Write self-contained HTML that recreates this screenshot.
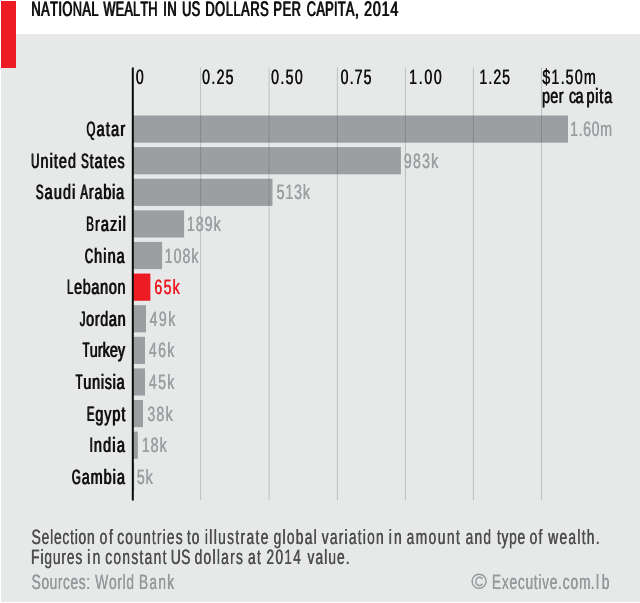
<!DOCTYPE html>
<html><head><meta charset="utf-8"><title>National wealth in US dollars per capita, 2014</title>
<style>
html,body{margin:0;padding:0;background:#fff;}
body{width:640px;height:603px;overflow:hidden;font-family:"Liberation Sans",sans-serif;}
svg{display:block;will-change:transform;}
svg text{font-family:"Liberation Sans",sans-serif;text-rendering:geometricPrecision;font-kerning:none;vector-effect:non-scaling-stroke;white-space:pre;}
</style></head><body>
<svg width="640" height="603" viewBox="0 0 640 603">
<rect x="0" y="0" width="640" height="603" fill="#ffffff"/>
<rect x="1" y="34" width="639" height="568" fill="#e6e9e8"/>
<rect x="1" y="1" width="15" height="67" fill="#ed1c24"/>
<g id="w1" font-size="21.0" fill="#111111" stroke="#111111" stroke-width="0.15"><text transform="translate(31.02,16) scale(0.610,1)" letter-spacing="0.74">NATIONAL</text></g><use href="#w1" x="0.7"/>
<g id="w2" font-size="21.0" fill="#111111" stroke="#111111" stroke-width="0.15"><text transform="translate(103.02,16) scale(0.610,1)" letter-spacing="0.25">WEALTH</text></g><use href="#w2" x="0.7"/>
<g id="w3" font-size="21.0" fill="#111111" stroke="#111111" stroke-width="0.15"><text transform="translate(162.89,16) scale(0.610,1)" letter-spacing="0.93">IN</text></g><use href="#w3" x="0.7"/>
<g id="w4" font-size="21.0" fill="#111111" stroke="#111111" stroke-width="0.15"><text transform="translate(181.84,16) scale(0.610,1)" letter-spacing="0.30">US</text></g><use href="#w4" x="0.7"/>
<g id="w5" font-size="21.0" fill="#111111" stroke="#111111" stroke-width="0.15"><text transform="translate(205.02,16) scale(0.610,1)" letter-spacing="0.98">DOLLARS</text></g><use href="#w5" x="0.7"/>
<g id="w6" font-size="21.0" fill="#111111" stroke="#111111" stroke-width="0.15"><text transform="translate(273.02,16) scale(0.610,1)" letter-spacing="1.03">PER</text></g><use href="#w6" x="0.7"/>
<g id="w7" font-size="21.0" fill="#111111" stroke="#111111" stroke-width="0.15"><text transform="translate(306.42,16) scale(0.610,1)" letter-spacing="0.48">CAPITA</text><text transform="translate(354.46,16) scale(0.700,1)">,</text></g><use href="#w7" x="0.7"/>
<g id="w8" font-size="21.0" fill="#111111" stroke="#111111" stroke-width="0.15"><text transform="translate(363.76,16) scale(0.680,1)" letter-spacing="1.23">2014</text></g><use href="#w8" x="0.7"/>
<rect x="133.10" y="115.50" width="434.90" height="27.2" fill="#9c9fa2"/>
<rect x="133.10" y="147.11" width="267.80" height="27.2" fill="#9c9fa2"/>
<rect x="133.10" y="178.72" width="139.40" height="27.2" fill="#9c9fa2"/>
<rect x="133.10" y="210.33" width="51.00" height="27.2" fill="#9c9fa2"/>
<rect x="133.10" y="241.94" width="29.00" height="27.2" fill="#9c9fa2"/>
<rect x="133.10" y="273.55" width="17.30" height="27.2" fill="#ed1c24"/>
<rect x="133.10" y="305.16" width="12.90" height="27.2" fill="#9c9fa2"/>
<rect x="133.10" y="336.77" width="11.90" height="27.2" fill="#9c9fa2"/>
<rect x="133.10" y="368.38" width="11.90" height="27.2" fill="#9c9fa2"/>
<rect x="133.10" y="399.99" width="9.90" height="27.2" fill="#9c9fa2"/>
<rect x="133.10" y="431.60" width="4.80" height="27.2" fill="#9c9fa2"/>
<rect x="133.10" y="463.21" width="1.10" height="27.2" fill="#9c9fa2"/>
<rect x="200.10" y="67.5" width="1" height="432.5" fill="#3c4146" fill-opacity="0.24"/>
<rect x="268.60" y="67.5" width="1" height="432.5" fill="#3c4146" fill-opacity="0.24"/>
<rect x="336.90" y="67.5" width="1" height="432.5" fill="#3c4146" fill-opacity="0.24"/>
<rect x="404.90" y="67.5" width="1" height="432.5" fill="#3c4146" fill-opacity="0.24"/>
<rect x="472.90" y="67.5" width="1" height="432.5" fill="#3c4146" fill-opacity="0.24"/>
<rect x="541.00" y="67.5" width="1" height="432.5" fill="#3c4146" fill-opacity="0.24"/>
<rect x="131.8" y="67.5" width="2" height="433" fill="#0a0a0a"/>
<g id="w9" font-size="20.8" fill="#111111" stroke="#111111" stroke-width="0.15"><text transform="translate(86.13,136) scale(0.550,1)">Q</text><text transform="translate(96.31,136) scale(0.690,1)" letter-spacing="1.85">atar</text></g><use href="#w9" x="0.7"/>
<g id="w10" font-size="20.8" fill="#9c9fa2" stroke="#9c9fa2" stroke-width="0.1"><text transform="translate(569.97,136) scale(0.680,1)">1</text><text transform="translate(578.43,136) scale(0.700,1)">.</text><text transform="translate(583.07,136) scale(0.680,1)" letter-spacing="0.87">60</text><text transform="translate(599.99,136) scale(0.690,1)">m</text></g><use href="#w10" x="0.2"/>
<g id="w11" font-size="20.8" fill="#111111" stroke="#111111" stroke-width="0.15"><text transform="translate(30.79,168) scale(0.550,1)">U</text><text transform="translate(40.15,168) scale(0.690,1)" letter-spacing="1.59">nited</text></g><use href="#w11" x="0.7"/>
<g id="w12" font-size="20.8" fill="#111111" stroke="#111111" stroke-width="0.15"><text transform="translate(80.76,168) scale(0.550,1)">S</text><text transform="translate(89.35,168) scale(0.690,1)" letter-spacing="1.40">tates</text></g><use href="#w12" x="0.7"/>
<g id="w13" font-size="20.8" fill="#9c9fa2" stroke="#9c9fa2" stroke-width="0.1"><text transform="translate(403.79,168) scale(0.680,1)" letter-spacing="1.80">983</text><text transform="translate(431.05,168) scale(0.690,1)">k</text></g><use href="#w13" x="0.2"/>
<g id="w14" font-size="20.8" fill="#111111" stroke="#111111" stroke-width="0.15"><text transform="translate(35.56,199) scale(0.550,1)">S</text><text transform="translate(44.35,199) scale(0.690,1)" letter-spacing="1.69">audi</text></g><use href="#w14" x="0.7"/>
<g id="w15" font-size="20.8" fill="#111111" stroke="#111111" stroke-width="0.15"><text transform="translate(80.05,199) scale(0.550,1)">A</text><text transform="translate(88.53,199) scale(0.690,1)" letter-spacing="1.23">rabia</text></g><use href="#w15" x="0.7"/>
<g id="w16" font-size="20.8" fill="#9c9fa2" stroke="#9c9fa2" stroke-width="0.1"><text transform="translate(276.48,199) scale(0.680,1)" letter-spacing="1.36">513</text><text transform="translate(302.85,199) scale(0.690,1)">k</text></g><use href="#w16" x="0.2"/>
<g id="w17" font-size="20.8" fill="#111111" stroke="#111111" stroke-width="0.15"><text transform="translate(85.89,231) scale(0.550,1)">B</text><text transform="translate(94.64,231) scale(0.690,1)" letter-spacing="1.62">razil</text></g><use href="#w17" x="0.7"/>
<g id="w18" font-size="20.8" fill="#9c9fa2" stroke="#9c9fa2" stroke-width="0.1"><text transform="translate(186.87,231) scale(0.680,1)" letter-spacing="1.46">189</text><text transform="translate(213.45,231) scale(0.690,1)">k</text></g><use href="#w18" x="0.2"/>
<g id="w19" font-size="20.8" fill="#111111" stroke="#111111" stroke-width="0.15"><text transform="translate(84.49,263) scale(0.550,1)">C</text><text transform="translate(93.84,263) scale(0.690,1)" letter-spacing="1.57">hina</text></g><use href="#w19" x="0.7"/>
<g id="w20" font-size="20.8" fill="#9c9fa2" stroke="#9c9fa2" stroke-width="0.1"><text transform="translate(164.57,263) scale(0.680,1)" letter-spacing="1.54">108</text><text transform="translate(191.30,263) scale(0.690,1)">k</text></g><use href="#w20" x="0.2"/>
<g id="w21" font-size="20.8" fill="#111111" stroke="#111111" stroke-width="0.15"><text transform="translate(66.64,294) scale(0.550,1)">L</text><text transform="translate(73.71,294) scale(0.690,1)" letter-spacing="1.03">ebanon</text></g><use href="#w21" x="0.7"/>
<g id="w22" font-size="20.8" fill="#ed1c24" stroke="#ed1c24" stroke-width="0.1"><text transform="translate(154.33,294) scale(0.680,1)" letter-spacing="1.83">65</text><text transform="translate(172.55,294) scale(0.690,1)">k</text></g><use href="#w22" x="0.2"/>
<g id="w23" font-size="20.8" fill="#111111" stroke="#111111" stroke-width="0.15"><text transform="translate(79.40,326) scale(0.550,1)">J</text><text transform="translate(85.78,326) scale(0.690,1)" letter-spacing="0.97">ordan</text></g><use href="#w23" x="0.7"/>
<g id="w24" font-size="20.8" fill="#9c9fa2" stroke="#9c9fa2" stroke-width="0.1"><text transform="translate(149.48,326) scale(0.680,1)" letter-spacing="2.17">49</text><text transform="translate(168.15,326) scale(0.690,1)">k</text></g><use href="#w24" x="0.2"/>
<g id="w25" font-size="20.8" fill="#111111" stroke="#111111" stroke-width="0.15"><text transform="translate(82.32,357) scale(0.550,1)">T</text><text transform="translate(89.38,357) scale(0.690,1)" letter-spacing="0.10">urkey</text></g><use href="#w25" x="0.7"/>
<g id="w26" font-size="20.8" fill="#9c9fa2" stroke="#9c9fa2" stroke-width="0.1"><text transform="translate(148.83,357) scale(0.680,1)" letter-spacing="1.91">46</text><text transform="translate(167.15,357) scale(0.690,1)">k</text></g><use href="#w26" x="0.2"/>
<g id="w27" font-size="20.8" fill="#111111" stroke="#111111" stroke-width="0.15"><text transform="translate(75.32,389) scale(0.550,1)">T</text><text transform="translate(83.04,389) scale(0.690,1)" letter-spacing="1.07">unisia</text></g><use href="#w27" x="0.7"/>
<g id="w28" font-size="20.8" fill="#9c9fa2" stroke="#9c9fa2" stroke-width="0.1"><text transform="translate(148.83,389) scale(0.680,1)" letter-spacing="1.91">45</text><text transform="translate(167.15,389) scale(0.690,1)">k</text></g><use href="#w28" x="0.2"/>
<g id="w29" font-size="20.8" fill="#111111" stroke="#111111" stroke-width="0.15"><text transform="translate(86.44,421) scale(0.550,1)">E</text><text transform="translate(95.00,421) scale(0.690,1)" letter-spacing="1.35">gypt</text></g><use href="#w29" x="0.7"/>
<g id="w30" font-size="20.8" fill="#9c9fa2" stroke="#9c9fa2" stroke-width="0.1"><text transform="translate(147.26,421) scale(0.680,1)" letter-spacing="1.81">38</text><text transform="translate(165.45,421) scale(0.690,1)">k</text></g><use href="#w30" x="0.2"/>
<g id="w31" font-size="20.8" fill="#111111" stroke="#111111" stroke-width="0.15"><text transform="translate(89.22,452) scale(0.550,1)">I</text><text transform="translate(93.62,452) scale(0.690,1)" letter-spacing="1.77">ndia</text></g><use href="#w31" x="0.7"/>
<g id="w32" font-size="20.8" fill="#9c9fa2" stroke="#9c9fa2" stroke-width="0.1"><text transform="translate(141.72,452) scale(0.680,1)" letter-spacing="1.47">18</text><text transform="translate(159.45,452) scale(0.690,1)">k</text></g><use href="#w32" x="0.2"/>
<g id="w33" font-size="20.8" fill="#111111" stroke="#111111" stroke-width="0.15"><text transform="translate(71.50,484) scale(0.550,1)">G</text><text transform="translate(81.39,484) scale(0.690,1)" letter-spacing="1.43">ambia</text></g><use href="#w33" x="0.7"/>
<g id="w34" font-size="20.8" fill="#9c9fa2" stroke="#9c9fa2" stroke-width="0.1"><text transform="translate(136.73,484) scale(0.680,1)">5</text><text transform="translate(145.45,484) scale(0.690,1)">k</text></g><use href="#w34" x="0.2"/>
<g id="w35" font-size="20.8" fill="#111111" stroke="#111111" stroke-width="0.1"><text transform="translate(135.70,84) scale(0.680,1)">0</text></g><use href="#w35" x="0.25"/>
<g id="w36" font-size="20.8" fill="#111111" stroke="#111111" stroke-width="0.1"><text transform="translate(202.10,84) scale(0.680,1)">0</text><text transform="translate(211.15,84) scale(0.700,1)">.</text><text transform="translate(216.38,84) scale(0.680,1)" letter-spacing="1.74">25</text></g><use href="#w36" x="0.25"/>
<g id="w37" font-size="20.8" fill="#111111" stroke="#111111" stroke-width="0.1"><text transform="translate(271.10,84) scale(0.680,1)">0</text><text transform="translate(280.27,84) scale(0.700,1)">.</text><text transform="translate(285.62,84) scale(0.680,1)" letter-spacing="1.92">50</text></g><use href="#w37" x="0.25"/>
<g id="w38" font-size="20.8" fill="#111111" stroke="#111111" stroke-width="0.1"><text transform="translate(340.50,84) scale(0.680,1)">0</text><text transform="translate(349.41,84) scale(0.700,1)">.</text><text transform="translate(354.51,84) scale(0.680,1)" letter-spacing="1.55">75</text></g><use href="#w38" x="0.25"/>
<g id="w39" font-size="20.8" fill="#111111" stroke="#111111" stroke-width="0.1"><text transform="translate(408.97,84) scale(0.680,1)">1</text><text transform="translate(418.52,84) scale(0.700,1)">.</text><text transform="translate(424.24,84) scale(0.680,1)" letter-spacing="2.47">00</text></g><use href="#w39" x="0.25"/>
<g id="w40" font-size="20.8" fill="#111111" stroke="#111111" stroke-width="0.1"><text transform="translate(479.37,84) scale(0.680,1)">1</text><text transform="translate(488.20,84) scale(0.700,1)">.</text><text transform="translate(493.20,84) scale(0.680,1)" letter-spacing="1.41">25</text></g><use href="#w40" x="0.25"/>
<g id="w41" font-size="20.8" fill="#111111" stroke="#111111" stroke-width="0.1"><text transform="translate(542.30,84) scale(0.680,1)" letter-spacing="1.73">$1</text><text transform="translate(560.38,84) scale(0.700,1)">.</text><text transform="translate(565.61,84) scale(0.680,1)" letter-spacing="1.73">50</text><text transform="translate(583.69,84) scale(0.690,1)">m</text></g><use href="#w41" x="0.25"/>
<g id="w42" font-size="20.8" fill="#111111" stroke="#111111" stroke-width="0.15"><text transform="translate(541.65,103) scale(0.690,1)" letter-spacing="0.63">per</text></g><use href="#w42" x="0.5"/>
<g id="w43" font-size="20.8" fill="#111111" stroke="#111111" stroke-width="0.15"><text transform="translate(568.67,103) scale(0.690,1)" letter-spacing="-0.72">ca</text><text transform="translate(586.15,103) scale(0.690,1)" letter-spacing="1.27">pita</text></g><use href="#w43" x="0.5"/>
<g id="w44" font-size="20.8" fill="#4d4d50"><text transform="translate(31.37,544) scale(0.670,1)">S</text><text transform="translate(41.46,544) scale(0.662,1)" letter-spacing="1.20">election</text></g><use href="#w44" x="0.4"/>
<g id="w45" font-size="20.8" fill="#4d4d50"><text transform="translate(99.42,544) scale(0.662,1)" letter-spacing="2.52">of</text></g><use href="#w45" x="0.4"/>
<g id="w46" font-size="20.8" fill="#4d4d50"><text transform="translate(117.01,544) scale(0.662,1)" letter-spacing="1.81">countries</text></g><use href="#w46" x="0.4"/>
<g id="w47" font-size="20.8" fill="#4d4d50"><text transform="translate(186.79,544) scale(0.662,1)" letter-spacing="1.50">to</text></g><use href="#w47" x="0.4"/>
<g id="w48" font-size="20.8" fill="#4d4d50"><text transform="translate(204.68,544) scale(0.662,1)" letter-spacing="2.05">illustrate</text></g><use href="#w48" x="0.4"/>
<g id="w49" font-size="20.8" fill="#4d4d50"><text transform="translate(273.42,544) scale(0.662,1)" letter-spacing="1.91">global</text></g><use href="#w49" x="0.4"/>
<g id="w50" font-size="20.8" fill="#4d4d50"><text transform="translate(321.55,544) scale(0.662,1)" letter-spacing="1.86">variation</text></g><use href="#w50" x="0.4"/>
<g id="w51" font-size="20.8" fill="#4d4d50"><text transform="translate(388.48,544) scale(0.662,1)" letter-spacing="3.46">in</text></g><use href="#w51" x="0.4"/>
<g id="w52" font-size="20.8" fill="#4d4d50"><text transform="translate(406.41,544) scale(0.662,1)" letter-spacing="2.21">amount</text></g><use href="#w52" x="0.4"/>
<g id="w53" font-size="20.8" fill="#4d4d50"><text transform="translate(465.41,544) scale(0.662,1)" letter-spacing="1.88">and</text></g><use href="#w53" x="0.4"/>
<g id="w54" font-size="20.8" fill="#4d4d50"><text transform="translate(496.79,544) scale(0.662,1)" letter-spacing="1.10">type</text></g><use href="#w54" x="0.4"/>
<g id="w55" font-size="20.8" fill="#4d4d50"><text transform="translate(529.42,544) scale(0.662,1)" letter-spacing="1.91">of</text></g><use href="#w55" x="0.4"/>
<g id="w56" font-size="20.8" fill="#4d4d50"><text transform="translate(548.02,544) scale(0.662,1)" letter-spacing="1.95">wealth</text><text transform="translate(595.59,544) scale(0.672,1)">.</text></g><use href="#w56" x="0.4"/>
<g id="w57" font-size="20.8" fill="#4d4d50"><text transform="translate(30.86,564) scale(0.670,1)">F</text><text transform="translate(40.24,564) scale(0.662,1)" letter-spacing="1.31">igures</text></g><use href="#w57" x="0.4"/>
<g id="w58" font-size="20.8" fill="#4d4d50"><text transform="translate(87.08,564) scale(0.662,1)" letter-spacing="3.46">in</text></g><use href="#w58" x="0.4"/>
<g id="w59" font-size="20.8" fill="#4d4d50"><text transform="translate(105.01,564) scale(0.662,1)" letter-spacing="1.98">constant</text></g><use href="#w59" x="0.4"/>
<g id="w60" font-size="20.8" fill="#4d4d50"><text transform="translate(170.52,564) scale(0.670,1)" letter-spacing="0.53">US</text></g><use href="#w60" x="0.4"/>
<g id="w61" font-size="20.8" fill="#4d4d50"><text transform="translate(194.42,564) scale(0.662,1)" letter-spacing="1.93">dollars</text></g><use href="#w61" x="0.4"/>
<g id="w62" font-size="20.8" fill="#4d4d50"><text transform="translate(247.81,564) scale(0.662,1)" letter-spacing="2.11">at</text></g><use href="#w62" x="0.4"/>
<g id="w63" font-size="20.8" fill="#4d4d50"><text transform="translate(266.32,564) scale(0.653,1)" letter-spacing="2.08">2014</text></g><use href="#w63" x="0.4"/>
<g id="w64" font-size="20.8" fill="#4d4d50"><text transform="translate(307.35,564) scale(0.662,1)" letter-spacing="1.60">value</text><text transform="translate(345.59,564) scale(0.672,1)">.</text></g><use href="#w64" x="0.4"/>
<g id="w65" font-size="20.8" fill="#96999c"><text transform="translate(31.37,589) scale(0.670,1)">S</text><text transform="translate(41.23,589) scale(0.662,1)" letter-spacing="0.86">ources</text><text transform="translate(85.99,589) scale(0.672,1)">:</text></g><use href="#w65" x="0.4"/>
<g id="w66" font-size="20.8" fill="#96999c"><text transform="translate(94.94,589) scale(0.670,1)">W</text><text transform="translate(108.80,589) scale(0.662,1)" letter-spacing="1.06">orld</text></g><use href="#w66" x="0.4"/>
<g id="w67" font-size="20.8" fill="#96999c"><text transform="translate(138.66,589) scale(0.670,1)">B</text><text transform="translate(149.22,589) scale(0.662,1)" letter-spacing="1.92">ank</text></g><use href="#w67" x="0.4"/>
<g id="w68" font-size="20.8" fill="#96999c"><text transform="translate(491.66,589) scale(0.670,1)">E</text><text transform="translate(501.67,589) scale(0.662,1)" letter-spacing="1.08">xecutive</text><text transform="translate(557.72,589) scale(0.672,1)">.</text><text transform="translate(562.51,589) scale(0.662,1)" letter-spacing="1.41">com</text><text transform="translate(590.62,589) scale(0.672,1)">.</text><text transform="translate(595.77,589) scale(0.662,1)" letter-spacing="4.20">lb</text></g><use href="#w68" x="0.4"/>
<circle cx="479.1" cy="581.3" r="7.0" fill="none" stroke="#96999c" stroke-width="1.45"/>
<path d="M482.5 579.2 A3.6 4.2 0 1 0 482.5 583.6" fill="none" stroke="#96999c" stroke-width="1.45"/>
</svg>
</body></html>
